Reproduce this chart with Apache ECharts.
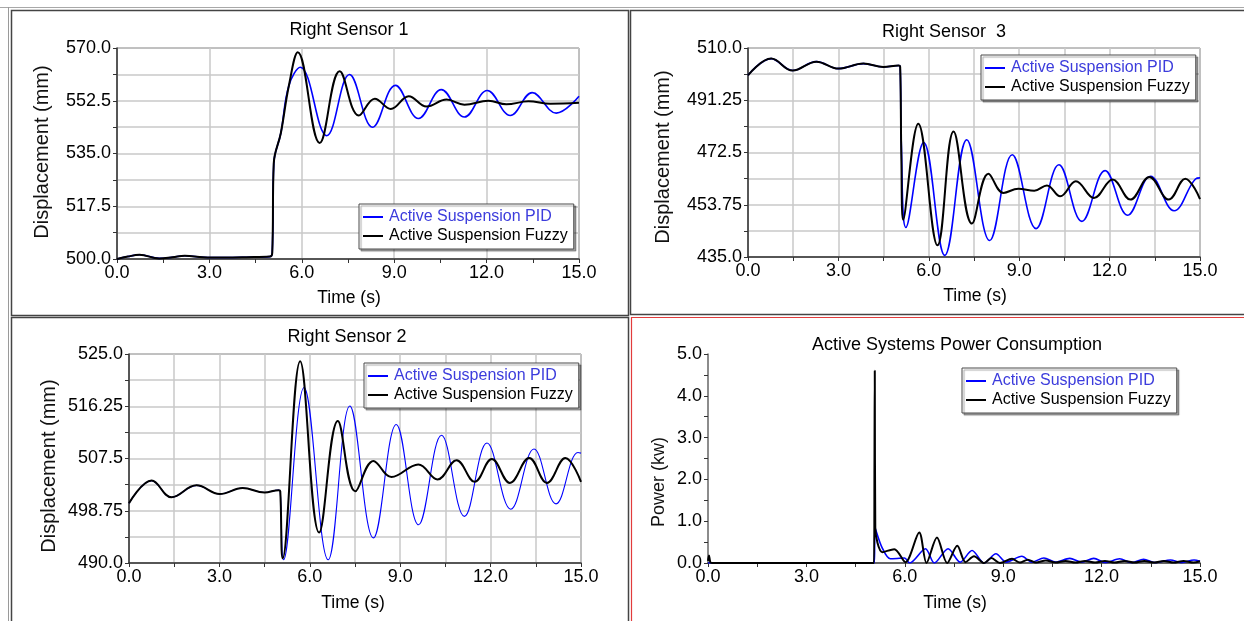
<!DOCTYPE html>
<html>
<head>
<meta charset="utf-8">
<title>Suspension Response</title>
<script src="https://cdn.jsdelivr.net/npm/echarts@6/dist/echarts.min.js"></script>
<style>
  html, body { margin: 0; padding: 0; background: #ffffff; }
  #chart { width: 1244px; height: 621px; }
</style>
</head>
<body>
<div id="chart"></div>
<script>
// ---- Series names ----
const PID = 'Active Suspension PID';
const FUZZY = 'Active Suspension Fuzzy';

// ---- Axis ticks ----
const timeTicks = [0, 3, 6, 9, 12, 15];
const sensor1Ticks = [500, 517.5, 535, 552.5, 570];
const sensor3Ticks = [435, 453.75, 472.5, 491.25, 510];
const sensor2Ticks = [490, 498.75, 507.5, 516.25, 525];
const powerTicks = [0, 1, 2, 3, 4, 5];

// ---- Right Sensor 1 (mm) ----
const s1FuzzyT = [0, 0.35, 0.73, 1.37, 1.8, 2.2, 2.8, 3.5, 4.2, 4.97, 5.04, 5.09, 5.32, 5.58, 5.87, 6.58, 7.23, 7.85, 8.37, 8.89, 9.47, 10.05, 10.7, 11.28, 12.06, 12.64, 13.36, 14.07, 15];
const s1FuzzyV = [500, 500.8, 501.4, 500.2, 500.6, 501.1, 500.6, 500.5, 500.6, 500.8, 502, 531.8, 541.8, 557.5, 568.6, 538.5, 562.3, 547.6, 553.2, 549.8, 554.0, 550.6, 552.9, 551.2, 552.5, 551.3, 552.3, 551.5, 551.8];
const s1PidT = [0, 0.35, 0.73, 1.37, 1.8, 2.2, 2.8, 3.5, 4.2, 4.97, 5.04, 5.09, 5.32, 5.58, 5.95, 6.81, 7.55, 8.3, 9.04, 9.79, 10.53, 11.28, 12.02, 12.77, 13.48, 14.26, 15];
const s1PidV = [500, 500.8, 501.4, 500.2, 500.6, 501.1, 500.6, 500.5, 500.6, 500.8, 502, 531.8, 541.8, 557.5, 563.6, 540.9, 561.2, 543.7, 557.6, 546.6, 556.2, 547.1, 555.9, 547.6, 555.2, 548.4, 554.0];

// ---- Right Sensor 3 (mm) ----
const s3FuzzyT = [0, 0.77, 1.48, 2.27, 3.0, 3.83, 4.49, 5.0, 5.05, 5.09, 5.15, 5.65, 6.29, 6.82, 7.43, 7.98, 8.48, 8.97, 9.5, 9.92, 10.36, 10.88, 11.48, 12.1, 12.69, 13.32, 13.96, 14.51, 15];
const s3FuzzyV = [500.2, 506.2, 501.9, 505.1, 502.6, 504.4, 503.2, 503.7, 503.3, 470, 448.4, 482.8, 439.2, 480.0, 447.0, 464.9, 458.0, 459.5, 458.8, 460.7, 456.8, 462.2, 456.2, 462.8, 455.6, 463.7, 455.6, 463.1, 455.8];
const s3PidT = [0, 0.77, 1.48, 2.27, 3.0, 3.83, 4.49, 5.0, 5.05, 5.09, 5.24, 5.83, 6.53, 7.26, 8.02, 8.77, 9.56, 10.32, 11.08, 11.85, 12.6, 13.36, 14.14, 14.85, 15];
const s3PidV = [500.2, 506.2, 501.9, 505.1, 502.6, 504.4, 503.2, 503.7, 503.3, 475, 445.6, 476.1, 435.6, 477.1, 440.9, 471.7, 445.2, 468.1, 447.8, 466.0, 450.0, 464.0, 451.6, 463.0, 463.4];

// ---- Right Sensor 2 (mm) ----
const s2FuzzyT = [0, 0.75, 1.41, 2.24, 3.01, 3.77, 4.5, 4.97, 5.02, 5.1, 5.68, 6.31, 6.93, 7.51, 8.11, 8.71, 9.6, 10.24, 10.87, 11.47, 12.04, 12.64, 13.28, 13.87, 14.48, 15];
const s2FuzzyV = [500.0, 503.8, 501.0, 503.0, 501.55, 502.55, 501.8, 502.2, 502.0, 490.8, 523.8, 495.1, 513.8, 502.0, 507.1, 504.4, 506.5, 504.0, 507.2, 503.6, 507.4, 503.4, 507.6, 503.4, 507.6, 503.6];
const s2PidT = [0, 0.75, 1.41, 2.24, 3.01, 3.77, 4.5, 4.97, 5.02, 5.13, 5.81, 6.61, 7.33, 8.11, 8.87, 9.61, 10.37, 11.13, 11.88, 12.67, 13.44, 14.17, 14.9, 15];
const s2PidV = [500.0, 503.8, 501.0, 503.0, 501.55, 502.55, 501.8, 502.2, 502.0, 490.55, 519.4, 490.55, 516.3, 494.2, 513.2, 496.4, 511.4, 497.8, 510.1, 499.0, 509.1, 499.9, 508.5, 508.4];

// ---- Power consumption (kW) ----
const pwFuzzyT = [0, 0.03, 0.07, 0.12, 5.0, 5.06, 5.075, 5.085, 5.1, 5.32, 5.68, 6.02, 6.44, 6.66, 6.98, 7.29, 7.6, 7.85, 8.11, 8.42, 8.64, 8.9, 9.27, 9.51, 9.75, 10.0, 10.3, 10.6, 10.9, 11.2, 11.5, 11.8, 12.1, 12.4, 12.7, 13.0, 13.3, 13.6, 13.9, 14.2, 14.5, 14.8, 15];
const pwFuzzyV = [0.05, 0.18, 0.02, 0, 0, 0, 2.3, 4.6, 0.85, 0.26, 0.33, 0.02, 0.73, 0, 0.61, 0, 0.41, 0.02, 0.16, 0, 0.12, 0, 0.1, 0.01, 0.08, 0.01, 0.06, 0.01, 0.05, 0.01, 0.05, 0.01, 0.05, 0.01, 0.05, 0.01, 0.05, 0.01, 0.05, 0.01, 0.05, 0.01, 0.04];
const pwPidT = [0, 5.0, 5.07, 5.09, 5.3, 5.56, 5.99, 6.15, 6.63, 6.9, 7.32, 7.69, 8.05, 8.42, 8.78, 9.09, 9.57, 9.87, 10.24, 10.6, 11.03, 11.39, 11.76, 12.12, 12.55, 12.91, 13.28, 13.64, 14.1, 14.43, 14.82, 15];
const pwPidV = [0, 0, 0, 0.84, 0.38, 0.1, 0.12, 0, 0.34, 0, 0.34, 0.02, 0.3, 0, 0.22, 0.02, 0.16, 0.02, 0.12, 0.02, 0.11, 0.02, 0.11, 0.01, 0.1, 0.01, 0.09, 0.01, 0.07, 0.01, 0.07, 0.04];

// ---- Styling ----
const FONT = '"Liberation Sans", Arial, sans-serif';
const BLUE = '#0000ff';
const BLUE_TEXT = '#3c3cdc';
const INK = '#000000';
const GRID_LINE = '#c9c9c9';
const AXIS_INK = '#333333';

function zip(ts, vs) { return ts.map((t, i) => [t, vs[i]]); }

function fmt(v) {
  const c = Math.round(v * 100);
  return (c % 10 === 0) ? v.toFixed(1) : v.toFixed(2);
}

// Panel layout: plot rectangles, title/name anchors, legend corner
const panels = [
  { title: 'Right Sensor 1', rect: [117, 48, 462, 211], ticks: sensor1Ticks, yName: 'Displacement (mm)',
    titleXY: [349, 30], yNameXY: [42, 152], xNameXY: [349, 298], legend: [359, 204],
    border: true, vMinor: false, hMinor: true, fuzzy: [s1FuzzyT, s1FuzzyV], pid: [s1PidT, s1PidV], pidWidth: 1.6, yNameSize: 20 },
  { title: 'Right Sensor  3', rect: [748, 48, 452, 209], ticks: sensor3Ticks, yName: 'Displacement (mm)',
    titleXY: [944, 32], yNameXY: [663, 157], xNameXY: [975, 296], legend: [981, 55],
    border: true, vMinor: true, hMinor: true, fuzzy: [s3FuzzyT, s3FuzzyV], pid: [s3PidT, s3PidV], pidWidth: 1.6, yNameSize: 20 },
  { title: 'Right Sensor 2', rect: [129, 354, 452, 209], ticks: sensor2Ticks, yName: 'Displacement (mm)',
    titleXY: [347, 337], yNameXY: [49, 466], xNameXY: [353, 603], legend: [364, 363],
    border: true, vMinor: true, hMinor: true, fuzzy: [s2FuzzyT, s2FuzzyV], pid: [s2PidT, s2PidV], pidWidth: 1.1, yNameSize: 20 },
  { title: 'Active Systems Power Consumption', rect: [708, 354, 492, 209], ticks: powerTicks, yName: 'Power (kw)',
    titleXY: [957, 345], yNameXY: [659, 482], xNameXY: [955, 603], legend: [962, 368],
    border: false, vMinor: false, hMinor: false, fuzzy: [pwFuzzyT, pwFuzzyV], pid: [pwPidT, pwPidV], pidWidth: 1.6, yNameSize: 18, power: true }
];

const grids = [], xAxes = [], yAxes = [], series = [], legends = [], graphics = [];

// Window frames around each panel
graphics.push(
  { type: 'line', shape: { x1: 0, y1: 7.5, x2: 1244, y2: 7.5 }, style: { stroke: '#a8a8a8', lineWidth: 1 }, z: 0 },
  { type: 'line', shape: { x1: 8.5, y1: 7, x2: 8.5, y2: 621 }, style: { stroke: '#9a9a9a', lineWidth: 1 }, z: 0 },
  { type: 'rect', shape: { x: 11.5, y: 10.5, width: 617, height: 305 }, style: { fill: null, stroke: '#444', lineWidth: 1.5 }, z: 0 },
  { type: 'rect', shape: { x: 630.5, y: 10.5, width: 620, height: 304 }, style: { fill: null, stroke: '#444', lineWidth: 1.5 }, z: 0 },
  { type: 'rect', shape: { x: 11.5, y: 317.5, width: 617, height: 310 }, style: { fill: null, stroke: '#444', lineWidth: 1.5 }, z: 0 },
  { type: 'rect', shape: { x: 631.5, y: 317.5, width: 620, height: 310 }, style: { fill: null, stroke: '#e23c3c', lineWidth: 1.2 }, z: 0 }
);

panels.forEach((p, i) => {
  const [left, top, width, height] = p.rect;
  grids.push({ left, top, width, height, show: p.border, borderColor: '#555', borderWidth: 1, backgroundColor: 'transparent' });

  const yMin = p.ticks[0], yMax = p.ticks[p.ticks.length - 1];
  const tickCommon = { show: true, length: 4, lineStyle: { color: AXIS_INK, width: 1 } };

  xAxes.push({
    gridIndex: i, type: 'value', min: timeTicks[0], max: timeTicks[timeTicks.length - 1], interval: timeTicks[1] - timeTicks[0],
    axisLine: { show: true, onZero: false, lineStyle: { color: AXIS_INK, width: 1.5 } },
    axisTick: tickCommon,
    minorTick: { show: true, splitNumber: 2, length: 4, lineStyle: { color: AXIS_INK, width: 1 } },
    splitLine: { show: !p.power, lineStyle: { color: GRID_LINE, width: 1.5 } },
    minorSplitLine: { show: p.vMinor, lineStyle: { color: GRID_LINE, width: 1.5 } },
    axisLabel: { fontSize: 18, fontFamily: FONT, color: INK, margin: 5, formatter: fmt }
  });
  yAxes.push({
    gridIndex: i, type: 'value', min: yMin, max: yMax, interval: p.ticks[1] - p.ticks[0],
    axisLine: { show: true, onZero: false, lineStyle: { color: p.power ? '#666' : AXIS_INK, width: 1.5 } },
    axisTick: tickCommon,
    minorTick: { show: true, splitNumber: 2, length: 4, lineStyle: { color: AXIS_INK, width: 1 } },
    splitLine: { show: !p.power, lineStyle: { color: GRID_LINE, width: 1.5 } },
    minorSplitLine: { show: p.hMinor, lineStyle: { color: GRID_LINE, width: 1.5 } },
    axisLabel: { fontSize: 18, fontFamily: FONT, color: INK, margin: 6, formatter: fmt }
  });

  series.push({
    name: PID, type: 'line', xAxisIndex: i, yAxisIndex: i, data: zip(p.pid[0], p.pid[1]),
    smooth: p.power ? 0.3 : 0.4, symbol: 'none', color: BLUE, itemStyle: { color: BLUE },
    lineStyle: { color: BLUE, width: p.pidWidth }, z: 2, animation: false
  });
  series.push({
    name: FUZZY, type: 'line', xAxisIndex: i, yAxisIndex: i, data: zip(p.fuzzy[0], p.fuzzy[1]),
    smooth: p.power ? 0.3 : 0.4, symbol: 'none', color: INK, itemStyle: { color: INK },
    lineStyle: { color: INK, width: 2 }, z: 3, animation: false
  });

  legends.push({
    left: p.legend[0], top: p.legend[1], orient: 'vertical',
    data: [{ name: PID, textStyle: { color: BLUE_TEXT } }, { name: FUZZY, textStyle: { color: INK } }],
    icon: 'rect', itemWidth: 20, itemHeight: 2, itemGap: 3,
    padding: [5, 6, 5, 4], backgroundColor: '#ffffff', borderColor: '#4a4a4a', borderWidth: 1,
    shadowColor: 'rgba(0,0,0,0.35)', shadowBlur: 1, shadowOffsetX: 2, shadowOffsetY: 2,
    textStyle: { fontSize: 16, fontFamily: FONT, color: INK, padding: [0, 0, 0, 1] },
    selectedMode: false
  });

  graphics.push(
    { type: 'text', x: p.titleXY[0], y: p.titleXY[1], z: 5,
      style: { text: p.title, font: '18px ' + FONT, fill: INK, textAlign: 'center', textVerticalAlign: 'middle' } },
    { type: 'text', x: p.yNameXY[0], y: p.yNameXY[1], rotation: Math.PI / 2, z: 5,
      style: { text: p.yName, font: p.yNameSize + 'px ' + FONT, fill: '#111', textAlign: 'center', textVerticalAlign: 'middle' } },
    { type: 'text', x: p.xNameXY[0], y: p.xNameXY[1], z: 5,
      style: { text: 'Time (s)', font: '17.5px ' + FONT, fill: INK, textAlign: 'center', textVerticalAlign: 'middle' } }
  );
});

const chart = echarts.init(document.getElementById('chart'), null, { renderer: 'canvas' });
chart.setOption({
  animation: false,
  backgroundColor: '#ffffff',
  grid: grids,
  xAxis: xAxes,
  yAxis: yAxes,
  legend: legends,
  series: series,
  graphic: graphics
});
</script>
</body>
</html>
